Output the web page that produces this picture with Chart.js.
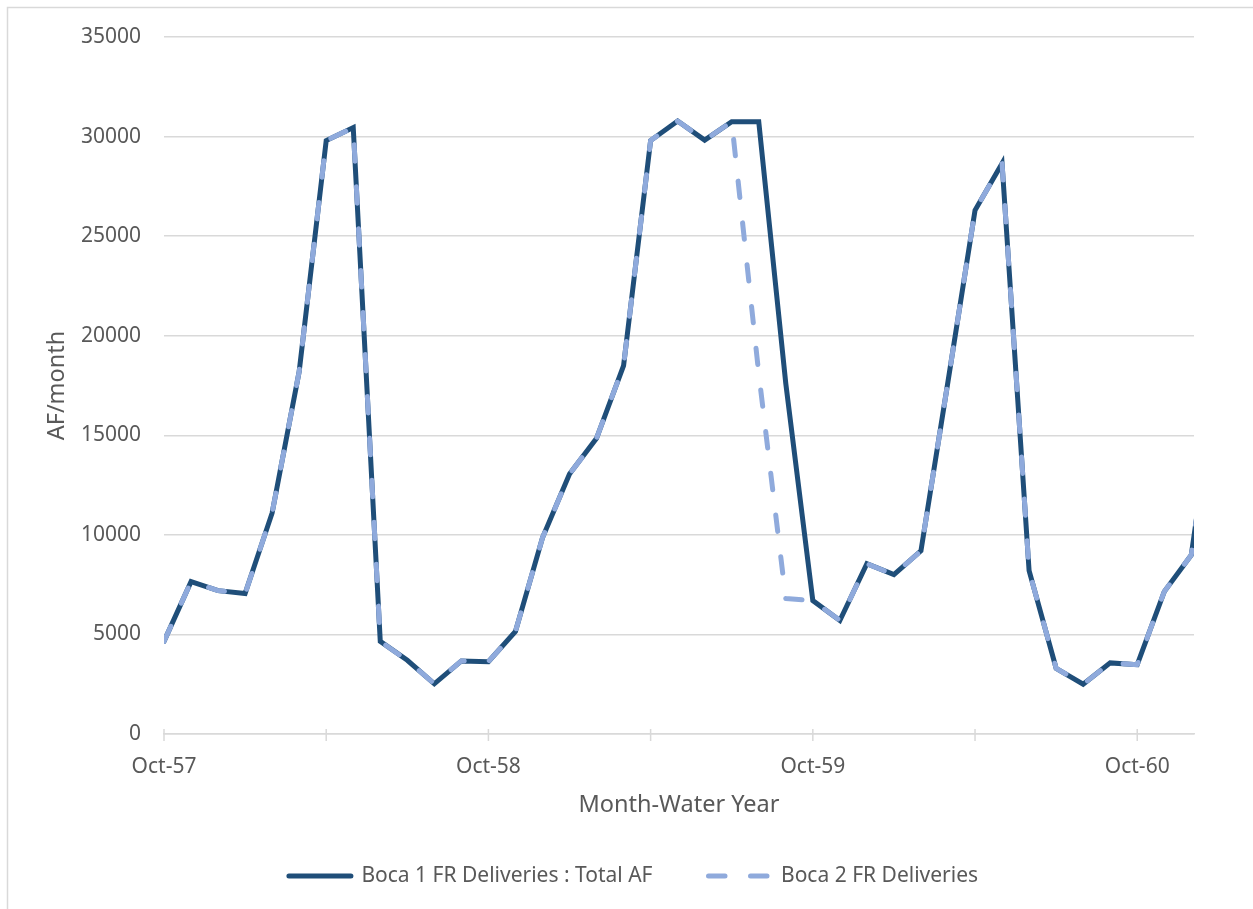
<!DOCTYPE html>
<html>
<head>
<meta charset="utf-8">
<script src="https://cdn.jsdelivr.net/npm/chart.js@4.4.1/dist/chart.umd.min.js"></script>
<style>
  html, body { margin: 0; padding: 0; background: #fff; }
  canvas { display: block; }
</style>
</head>
<body>
<canvas id="chart" width="1253" height="909"></canvas>
<script>
/* ─── dados (AF/month, Oct-57 .. Jan-61) ─── */
const months = [
  'Oct-57','Nov-57','Dec-57','Jan-58','Feb-58','Mar-58','Apr-58','May-58','Jun-58','Jul-58','Aug-58','Sep-58',
  'Oct-58','Nov-58','Dec-58','Jan-59','Feb-59','Mar-59','Apr-59','May-59','Jun-59','Jul-59','Aug-59','Sep-59',
  'Oct-59','Nov-59','Dec-59','Jan-60','Feb-60','Mar-60','Apr-60','May-60','Jun-60','Jul-60','Aug-60','Sep-60',
  'Oct-60','Nov-60','Dec-60','Jan-61'
];

const boca1 = [
  4650, 7650, 7200, 7050, 11100, 18200, 29800, 30450, 4650, 3700, 2520, 3670,
  3630, 5150, 9850, 13050, 14850, 18500, 29800, 30780, 29820, 30750, 30750, 17600,
  6700, 5700, 8550, 8000, 9200, 17700, 26300, 28650, 8200, 3300, 2500, 3570,
  3480, 7150, 8990, 18500
];

const boca2 = [
  4650, 7650, 7200, 7050, 11100, 18200, 29800, 30450, 4650, 3700, 2520, 3670,
  3630, 5150, 9850, 13050, 14850, 18500, 29800, 30780, 29820, 30750, 18100, 6800,
  6700, 5700, 8550, 8000, 9200, 17700, 26300, 28650, 8200, 3300, 2500, 3570,
  3480, 7150, 8990, 18500
];

const seriesNames = ['Boca 1 FR Deliveries : Total AF', 'Boca 2 FR Deliveries'];

// ticks do eixo x: a cada 6 meses, rótulo só em outubro
const tickMonths = [0, 6, 12, 18, 24, 30, 36];
const tickLabels = ['Oct-57', '', 'Oct-58', '', 'Oct-59', '', 'Oct-60'];
const xMax = 38.1;

const yTicks = [0, 5000, 10000, 15000, 20000, 25000, 30000, 35000];

/* ─── estilo ─── */
const DARK = '#1f4e79';
const LIGHT = '#8faadc';
const GRID = '#d9d9d9';
const TEXT = '#595959';

Chart.defaults.font.family = "'Noto Sans', sans-serif";
Chart.defaults.color = TEXT;

/* ─── moldura (só borda esquerda e topo aparecem) ─── */
const framePlugin = {
  id: 'frame',
  beforeDraw(chart) {
    const { ctx, width, height } = chart;
    ctx.save();
    ctx.strokeStyle = GRID;
    ctx.lineWidth = 1.5;
    ctx.beginPath();
    ctx.moveTo(7.5, height + 2);
    ctx.lineTo(7.5, 7.5);
    ctx.lineTo(width + 2, 7.5);
    ctx.stroke();
    ctx.restore();
  }
};

/* ─── marcas de tick cruzando o eixo x ─── */
const crossTicks = {
  id: 'crossTicks',
  beforeDatasetsDraw(chart) {
    const { ctx, scales: { x }, chartArea } = chart;
    ctx.save();
    ctx.strokeStyle = GRID;
    ctx.lineWidth = 1.5;
    x.ticks.forEach(t => {
      const px = x.getPixelForValue(t.value);
      ctx.beginPath();
      ctx.moveTo(px, chartArea.bottom - 5);
      ctx.lineTo(px, chartArea.bottom + 7);
      ctx.stroke();
    });
    ctx.restore();
  }
};

// legenda com pointStyle perde o borderDash — repõe a partir do dataset
const defaultLabels = Chart.defaults.plugins.legend.labels.generateLabels;
function legendLabels(chart) {
  return defaultLabels(chart).map(item => {
    const ds = chart.data.datasets[item.datasetIndex];
    item.lineDash = ds.borderDash || [];
    item.lineCap = ds.borderCapStyle || 'butt';
    return item;
  });
}

const ctx = document.getElementById('chart').getContext('2d');

new Chart(ctx, {
  type: 'line',
  data: {
    datasets: [
      {
        label: seriesNames[0],
        data: boca1.map((v, i) => ({ x: i, y: v })),
        borderColor: DARK,
        backgroundColor: DARK,
        borderWidth: 5,
        borderCapStyle: 'round',
        borderJoinStyle: 'miter',
        pointRadius: 0,
        tension: 0,
        order: 2,
      },
      {
        label: seriesNames[1],
        data: boca2.map((v, i) => ({ x: i, y: v })),
        borderColor: LIGHT,
        backgroundColor: LIGHT,
        borderWidth: 5,
        borderDash: [16.5, 25.5],
        borderCapStyle: 'round',
        borderJoinStyle: 'round',
        pointRadius: 0,
        tension: 0,
        order: 1,
      }
    ]
  },
  options: {
    responsive: false,
    animation: false,
    devicePixelRatio: 1,
    layout: { padding: { left: 14, right: 0, top: 37, bottom: 12.5 } },
    plugins: {
      tooltip: { enabled: false },
      legend: {
        position: 'bottom',
        labels: {
          usePointStyle: true,
          pointStyle: 'line',
          pointStyleWidth: 62,
          padding: 56,
          color: TEXT,
          font: { size: 21 },
          generateLabels: legendLabels,
          sort: (a, b) => a.datasetIndex - b.datasetIndex,
        }
      }
    },
    scales: {
      x: {
        type: 'linear',
        min: 0,
        max: xMax,
        afterBuildTicks: s => { s.ticks = tickMonths.map(v => ({ value: v })); },
        afterFit: s => { s.height = 75.5; },
        grid: { display: false, drawTicks: false },
        border: { display: true, color: GRID, width: 1.5 },
        ticks: {
          autoSkip: false,
          maxRotation: 0,
          padding: 20,
          font: { size: 21 },
          color: TEXT,
          callback: v => tickLabels[tickMonths.indexOf(v)] || ''
        },
        title: {
          display: true,
          text: 'Month-Water Year',
          color: TEXT,
          font: { size: 23.5 },
          padding: { top: 0, bottom: -9.5 }
        }
      },
      y: {
        min: 0,
        max: 35000,
        afterBuildTicks: s => { s.ticks = yTicks.map(v => ({ value: v })); },
        afterFit: s => { s.width = 150; },
        grid: { color: GRID, lineWidth: 1.5, drawTicks: false },
        border: { display: false },
        ticks: {
          padding: 23,
          font: { size: 21 },
          color: TEXT,
          callback: v => String(v)
        },
        title: {
          display: true,
          text: 'AF/month',
          color: TEXT,
          font: { size: 23.5 },
          padding: { top: 29, bottom: 0 }
        }
      },
      yRight: {
        type: 'linear',
        position: 'right',
        display: true,
        afterFit: s => { s.width = 59; },
        grid: { display: false },
        border: { display: false },
        ticks: { display: false }
      }
    }
  },
  plugins: [framePlugin, crossTicks]
});
</script>
</body>
</html>
